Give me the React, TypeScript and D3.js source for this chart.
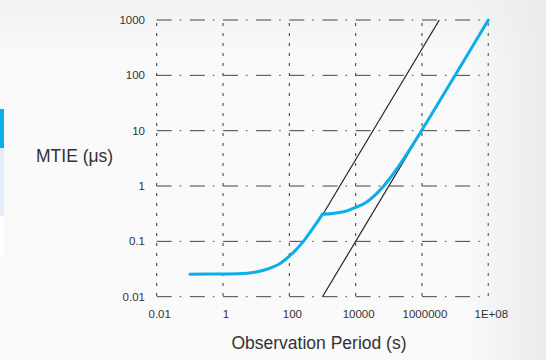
import React from "react";
import * as d3 from "d3";

const periodsLow = [0.1, 1, 3, 10, 20, 30, 50, 70, 100, 150, 200, 300, 500, 700, 1000];
const mtieLow = [0.0255, 0.0258, 0.026, 0.028, 0.031, 0.034, 0.039, 0.045, 0.054, 0.068, 0.082, 0.11, 0.168, 0.225, 0.31];
const periodsHigh = [1000, 2000, 5000, 10000, 20000, 50000, 1e5, 2e5, 5e5, 1e6, 1e7, 1e8];
const mtieHigh = [0.31, 0.32, 0.35, 0.41, 0.5, 0.8, 1.3, 2.3, 5.3, 10.3, 100, 1000];

// limit lines
const limitUpperX = [1000, 3.33e6];
const limitUpperY = [0.3, 1000];
const limitLowerX = [1000, 1e8];
const limitLowerY = [0.01, 1000];

const xTicks = [0.01, 1, 100, 10000, 1000000, 1e8];
const xTickLabels = ["0.01", "1", "100", "10000", "1000000", "1E+08"];
const yTicks = [0.01, 0.1, 1, 10, 100, 1000];
const yTickLabels = ["0.01", "0.1", "1", "10", "100", "1000"];

const W = 546;
const H = 360;
const font = "'Liberation Sans', Arial, sans-serif";

const App = () => {
  const x = d3.scaleLog().domain([0.01, 1e8]).range([156.7, 488.3]);
  const y = d3.scaleLog().domain([0.01, 1000]).range([296.7, 20]);
  const decade = x(10) - x(1);
  const hDash = [15, 8, 1.5, decade - 24.5].join(",");

  const line = d3
    .line<[number, number]>()
    .x((d) => x(d[0]))
    .y((d) => y(d[1]))
    .curve(d3.curveMonotoneX);
  const straight = d3
    .line<[number, number]>()
    .x((d) => x(d[0]))
    .y((d) => y(d[1]));

  const zip = (a: number[], b: number[]) => a.map((v, i) => [v, b[i]] as [number, number]);

  return (
    <svg width={W} height={H} style={{ position: "absolute", left: 0, top: 0 }}>
      <defs>
        <linearGradient id="bgv" x1="0" y1="0" x2="0" y2="1">
          <stop offset="0" stopColor="#f1f2f2" />
          <stop offset="0.15" stopColor="#f9f9f9" />
          <stop offset="1" stopColor="#fafafa" />
        </linearGradient>
        <linearGradient id="bgh" x1="0" y1="0" x2="1" y2="0">
          <stop offset="0.85" stopColor="#e9ebed" stopOpacity="0" />
          <stop offset="1" stopColor="#e9ebed" stopOpacity="1" />
        </linearGradient>
      </defs>
      <rect width={W} height={H} fill="url(#bgv)" />
      <rect width={W} height={H} fill="url(#bgh)" />

      {/* page side tabs */}
      <rect x={0} y={109} width={4} height={39} fill="#0aaeea" />
      <rect x={0} y={148} width={4} height={68} fill="#e2edf9" />
      <rect x={0} y={216} width={4} height={41} fill="#ffffff" />

      {/* grid */}
      {yTicks.map((t) => (
        <line
          key={"h" + t}
          x1={x.range()[0]}
          x2={x.range()[1]}
          y1={y(t)}
          y2={y(t)}
          stroke="#444"
          strokeWidth={1}
          strokeDasharray={hDash}
        />
      ))}
      {xTicks.map((t, i) => (
        <line
          key={"v" + t}
          x1={x(t)}
          x2={x(t)}
          y1={y.range()[1]}
          y2={y.range()[0]}
          stroke={i === xTicks.length - 1 ? "#777" : "#333"}
          strokeWidth={i === xTicks.length - 1 ? 1.4 : 1}
          strokeDasharray="3,7"
          strokeDashoffset={-3}
        />
      ))}

      {/* limit lines */}
      <path d={straight(zip(limitLowerX, limitLowerY)) || ""} fill="none" stroke="#222" strokeWidth={1.2} />
      <path d={straight(zip(limitUpperX, limitUpperY)) || ""} fill="none" stroke="#222" strokeWidth={1.2} />

      {/* measured curve */}
      <path
        d={line(zip(periodsLow, mtieLow)) || ""}
        fill="none"
        stroke="#0aaeea"
        strokeWidth={3}
        strokeLinecap="round"
      />
      <path
        d={line(zip(periodsHigh, mtieHigh)) || ""}
        fill="none"
        stroke="#0aaeea"
        strokeWidth={3}
        strokeLinecap="round"
        strokeLinejoin="round"
      />

      {/* tick labels */}
      {yTicks.map((t, i) => (
        <text
          key={"yl" + t}
          x={145}
          y={y(t)}
          dy="0.35em"
          textAnchor="end"
          fontFamily={font}
          fontSize={11.5}
          fill="#333"
        >
          {yTickLabels[i]}
        </text>
      ))}
      {xTicks.map((t, i) => (
        <text
          key={"xl" + t}
          x={x(t) + 3}
          y={318}
          textAnchor="middle"
          fontFamily={font}
          fontSize={11.5}
          fill="#333"
        >
          {xTickLabels[i]}
        </text>
      ))}

      {/* axis titles */}
      <text x={36} y={162} fontFamily={font} fontSize={17.5} fill="#333">
        MTIE (μs)
      </text>
      <text x={319} y={348.5} textAnchor="middle" fontFamily={font} fontSize={17.5} fill="#333">
        Observation Period (s)
      </text>
    </svg>
  );
};

export default App;
